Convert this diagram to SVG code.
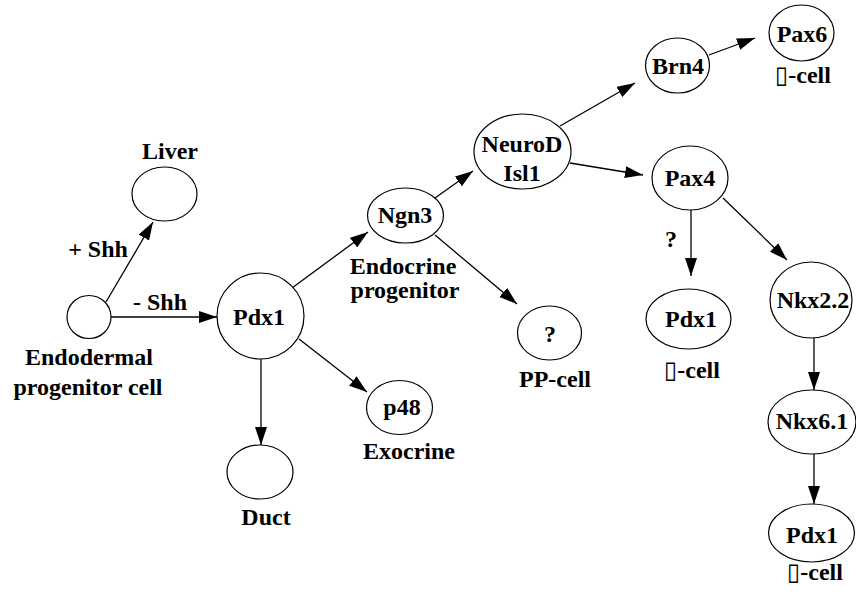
<svg xmlns="http://www.w3.org/2000/svg" width="856" height="595" viewBox="0 0 856 595">
<style>
.n{fill:#fff;stroke:#000;stroke-width:1.2}
.e{stroke:#000;stroke-width:1.3;fill:none;marker-end:url(#a)}
.t{font-family:'Liberation Serif','DejaVu Sans',serif;font-weight:bold;font-size:24px;fill:#000;text-anchor:middle}
</style>
<defs>
<marker id="a" markerUnits="userSpaceOnUse" markerWidth="18" markerHeight="12" refX="18" refY="6" orient="auto">
<path d="M0,0 L18,6 L0,12 z" fill="#000"/>
</marker>
</defs>
<rect width="856" height="595" fill="#fff"/>
<g id="edges">
<line class="e" x1="106" y1="302" x2="153" y2="222"/>
<line class="e" x1="111" y1="317" x2="217" y2="317"/>
<line class="e" x1="292" y1="288" x2="368" y2="232"/>
<line class="e" x1="299" y1="339" x2="367" y2="392"/>
<line class="e" x1="261" y1="359" x2="261" y2="445"/>
<line class="e" x1="435" y1="198" x2="473" y2="171"/>
<line class="e" x1="435" y1="235" x2="517" y2="304"/>
<line class="e" x1="560" y1="126" x2="635" y2="83"/>
<line class="e" x1="709" y1="55" x2="755" y2="38"/>
<line class="e" x1="570" y1="163" x2="643" y2="175"/>
<line class="e" x1="691" y1="210" x2="691" y2="276"/>
<line class="e" x1="723" y1="198" x2="787" y2="260"/>
<line class="e" x1="814" y1="338" x2="814" y2="390"/>
<line class="e" x1="814" y1="454" x2="814" y2="504"/>
<text class="t" x="98" y="257">+ Shh</text>
<text class="t" x="160" y="310">- Shh</text>
<text class="t" x="671" y="247">?</text>
</g>
<g id="endodermal">
<ellipse class="n" cx="89" cy="317" rx="22" ry="21.5"/>
<text class="t" x="89" y="365">Endodermal</text>
<text class="t" x="88" y="395">progenitor cell</text>
</g>
<g id="liver">
<ellipse class="n" cx="164.5" cy="194" rx="32.5" ry="27"/>
<text class="t" x="170" y="159">Liver</text>
</g>
<g id="pdx1">
<ellipse class="n" cx="260.5" cy="316" rx="43.5" ry="43"/>
<text class="t" x="259" y="325">Pdx1</text>
</g>
<g id="duct">
<ellipse class="n" cx="260" cy="472" rx="33" ry="27"/>
<text class="t" x="266" y="525">Duct</text>
</g>
<g id="p48">
<ellipse class="n" cx="399.5" cy="407.5" rx="33" ry="27"/>
<text class="t" x="402" y="415">p48</text>
<text class="t" x="409" y="459">Exocrine</text>
</g>
<g id="ngn3">
<ellipse class="n" cx="405.5" cy="215.5" rx="38" ry="27.5"/>
<text class="t" x="405" y="223">Ngn3</text>
<text class="t" x="403" y="274">Endocrine</text>
<text class="t" x="405" y="298">progenitor</text>
</g>
<g id="pp">
<ellipse class="n" cx="549.5" cy="333" rx="32" ry="27"/>
<text class="t" x="550" y="342">?</text>
<text class="t" x="555" y="387">PP-cell</text>
</g>
<g id="neurod">
<ellipse class="n" cx="522.5" cy="151.5" rx="48.5" ry="37.5"/>
<text class="t" x="522" y="152">NeuroD</text>
<text class="t" x="522" y="181">Isl1</text>
</g>
<g id="brn4">
<ellipse class="n" cx="677.5" cy="65.5" rx="32" ry="27.5"/>
<text class="t" x="678" y="74">Brn4</text>
</g>
<g id="pax6">
<ellipse class="n" cx="801.5" cy="33" rx="32.5" ry="28"/>
<text class="t" x="802" y="42">Pax6</text>
<text class="t" x="803" y="83">▯-cell</text>
</g>
<g id="pax4">
<ellipse class="n" cx="690" cy="178" rx="38" ry="32"/>
<text class="t" x="690" y="186">Pax4</text>
</g>
<g id="pdx1-beta">
<ellipse class="n" cx="688.5" cy="319" rx="42.5" ry="30"/>
<text class="t" x="691" y="327">Pdx1</text>
<text class="t" x="692" y="378">▯-cell</text>
</g>
<g id="nkx22">
<ellipse class="n" cx="811" cy="300" rx="41" ry="38"/>
<text class="t" x="813" y="308">Nkx2.2</text>
</g>
<g id="nkx61">
<ellipse class="n" cx="812" cy="422" rx="44" ry="32"/>
<text class="t" x="812" y="429">Nkx6.1</text>
</g>
<g id="pdx1-bottom">
<ellipse class="n" cx="811.5" cy="533" rx="43" ry="29"/>
<text class="t" x="812" y="543">Pdx1</text>
<text class="t" x="815" y="580">▯-cell</text>
</g>
</svg>
